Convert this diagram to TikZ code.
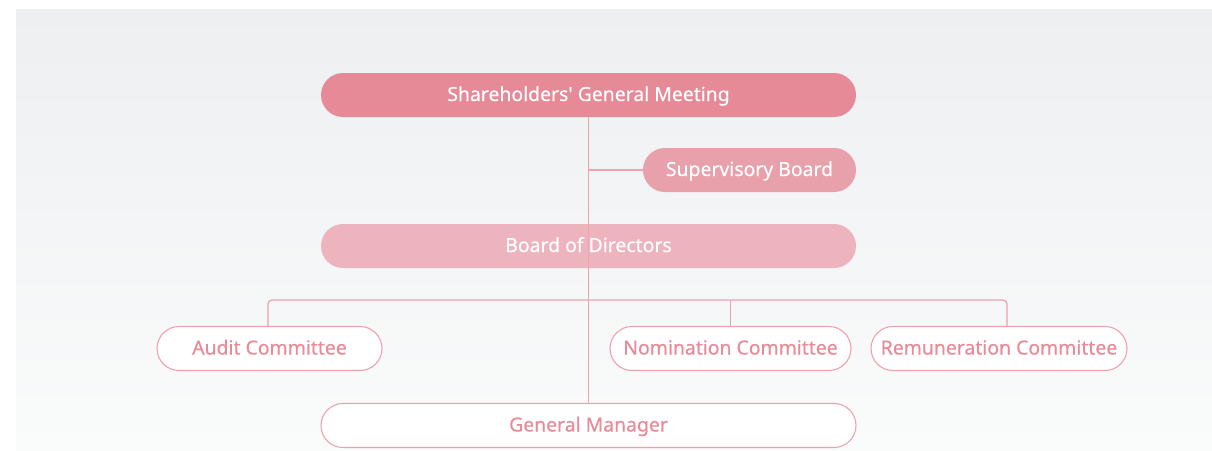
\documentclass[tikz,border=0pt]{standalone}
\usepackage{fontspec}
\setmainfont{Noto Sans}
\newfontfamily\pillfont[FakeBold=0.35]{Noto Sans}
\definecolor{bgtop}{HTML}{EEEFF1}
\definecolor{bgbot}{HTML}{FAFBFB}
\definecolor{pinkA}{HTML}{E68A98}
\definecolor{pinkB}{HTML}{E8A0AA}
\definecolor{pinkC}{HTML}{EDB4BE}
\definecolor{linkc}{HTML}{EFA2AE}
\definecolor{txtc}{HTML}{E88A98}
\begin{document}
\begin{tikzpicture}[x=1pt,y=-1pt,
  pill/.style={rectangle, rounded corners=22pt, minimum height=44pt,
    inner sep=0pt, text height=14pt, text depth=2pt,
    font=\pillfont\fontsize{19.4}{22}\selectfont},
  solidpill/.style={pill, text=white},
  linepill/.style={pill, draw=linkc, line width=1.1pt, fill=white, text=txtc},
  link/.style={draw=linkc, line width=1.3pt}]
\useasboundingbox (0,0) rectangle (1212,450);
\shade[top color=bgtop, bottom color=bgbot] (16,9) rectangle (1212,450);

% top level
\node[solidpill, fill=pinkA, minimum width=535pt] (sgm) at (588.5,95) {Shareholders\textquotesingle{} General Meeting};
\node[solidpill, fill=pinkB, minimum width=213pt] (sup) at (749.5,170) {Supervisory Board};
\node[solidpill, fill=pinkC, minimum width=535pt] (bod) at (588.5,246) {Board of Directors};

% committees and management
\node[linepill, minimum width=225pt] (aud) at (269.5,348.5) {Audit Committee};
\node[linepill, minimum width=241pt] (nom) at (730.5,348.5) {Nomination Committee};
\node[linepill, minimum width=256pt] (rem) at (999,348.5) {Remuneration Committee};
\node[linepill, minimum width=535pt] (gm) at (588.5,425.5) {General Manager};

% connectors
\coordinate (bus) at (588.5,300);
\path[link] (sgm.south) -- (gm.north);
\path[link] (sgm.south |- sup.west) -- (sup.west);
\path[link, rounded corners=4pt] (aud.north -| 268,0) |- (bus) -| (rem.north -| 1007,0);
\path[link] (bus -| nom.north) -- (nom.north);
\end{tikzpicture}
\end{document}
